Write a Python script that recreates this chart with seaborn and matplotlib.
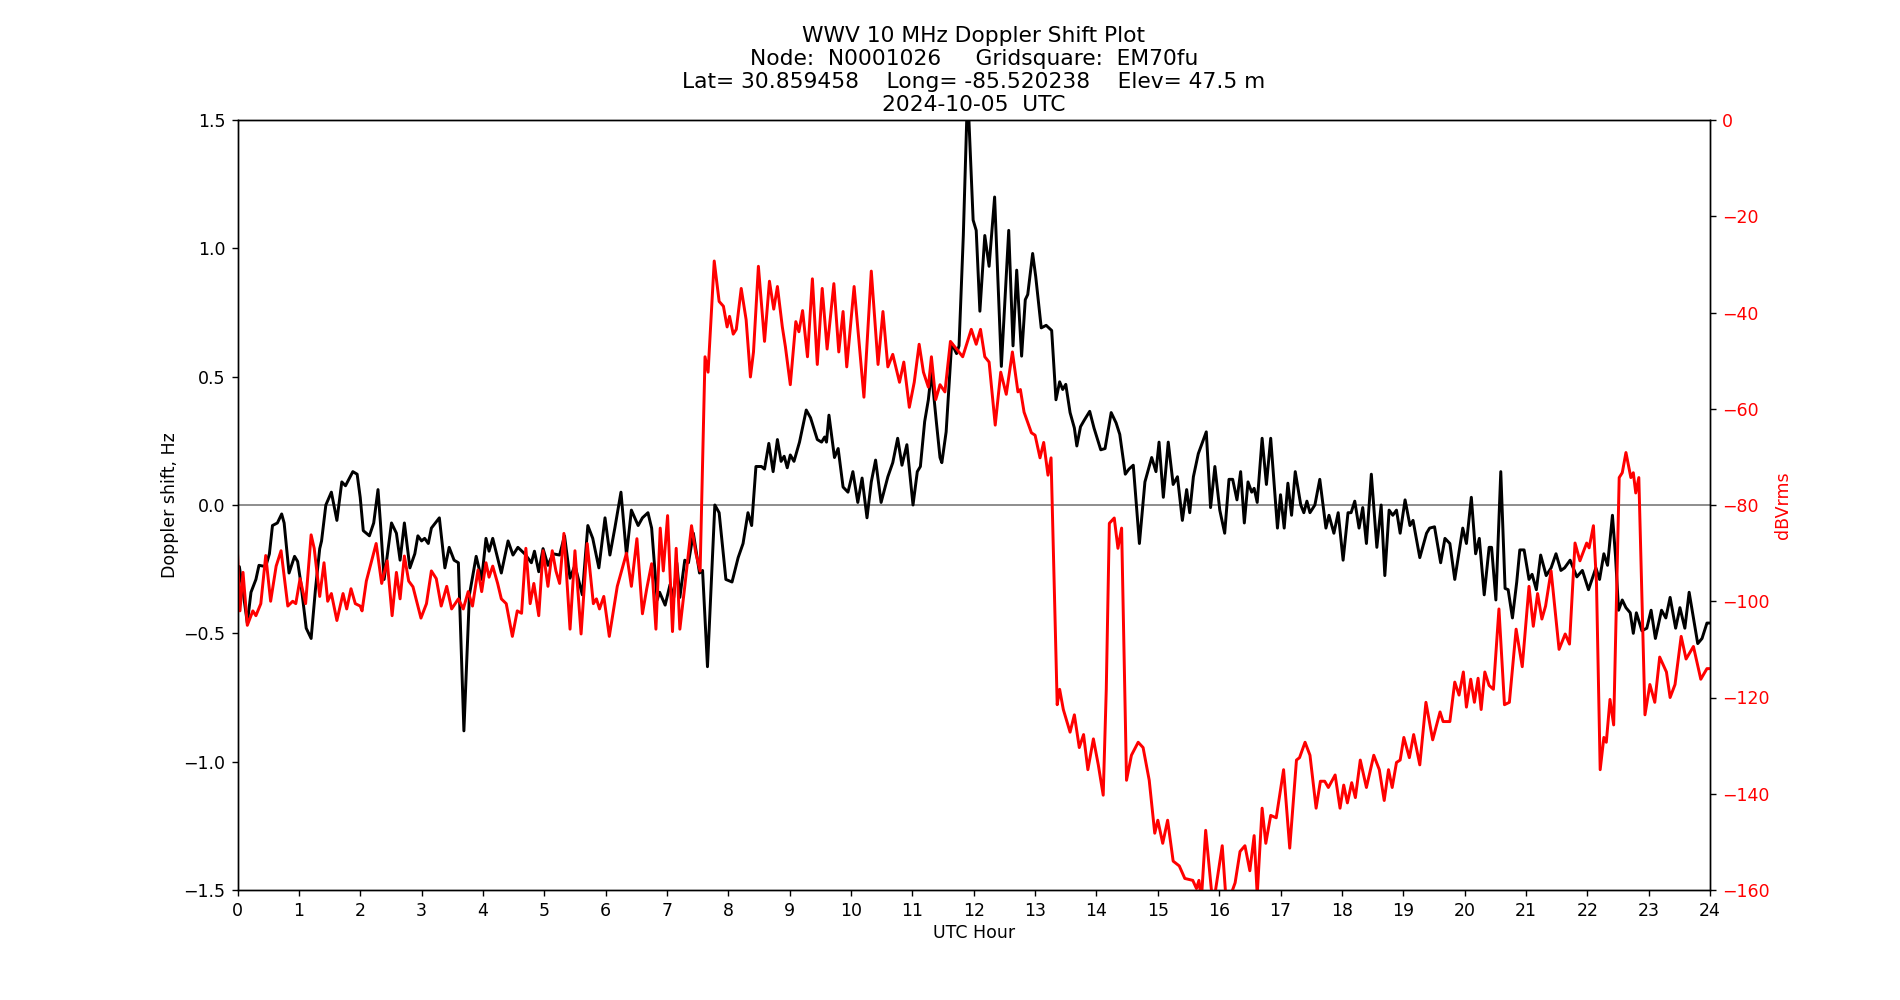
import pandas as pd
import numpy as np
import seaborn as sns
import matplotlib.pyplot as plt

# doppler shift (Hz), hour / value pairs
dop_hours = [0.00, 0.03, 0.08, 0.16, 0.22, 0.30, 0.35, 0.46, 0.52, 0.57, 0.65, 0.72, 0.76, 0.84, 0.93, 0.98,
             1.03, 1.12, 1.20, 1.27, 1.34, 1.37, 1.44, 1.53, 1.62, 1.70, 1.76, 1.88, 1.95, 2.00, 2.05, 2.15,
             2.22, 2.29, 2.33, 2.39, 2.51, 2.59, 2.65, 2.72, 2.81, 2.89, 2.94, 3.00, 3.05, 3.11, 3.16, 3.29,
             3.38, 3.45, 3.53, 3.60, 3.69, 3.78, 3.89, 3.98, 4.05, 4.10, 4.16, 4.30, 4.41, 4.49, 4.57, 4.68,
             4.79, 4.84, 4.91, 4.98, 5.06, 5.14, 5.25, 5.33, 5.42, 5.50, 5.62, 5.71, 5.79, 5.89, 5.99, 6.07,
             6.15, 6.25, 6.34, 6.42, 6.53, 6.60, 6.69, 6.75, 6.84, 6.88, 6.97, 7.05, 7.11, 7.16, 7.21, 7.29,
             7.35, 7.43, 7.53, 7.58, 7.66, 7.78, 7.85, 7.96, 8.06, 8.16, 8.24, 8.32, 8.38, 8.45, 8.54, 8.59,
             8.66, 8.73, 8.80, 8.86, 8.91, 8.96, 9.01, 9.07, 9.16, 9.27, 9.34, 9.45, 9.52, 9.57, 9.60, 9.64,
             9.73, 9.79, 9.87, 9.95, 10.03, 10.11, 10.18, 10.26, 10.33, 10.40, 10.49, 10.60, 10.68, 10.76,
             10.83, 10.91, 11.01, 11.08, 11.13, 11.20, 11.26, 11.31, 11.39, 11.45, 11.48, 11.55, 11.64, 11.72,
             11.76, 11.83, 11.90, 11.99, 12.04, 12.10, 12.18, 12.25, 12.34, 12.45, 12.50, 12.57, 12.64, 12.70,
             12.78, 12.84, 12.88, 12.96, 13.01, 13.10, 13.18, 13.27, 13.34, 13.40, 13.45, 13.50, 13.57, 13.64,
             13.68, 13.74, 13.80, 13.89, 13.96, 14.07, 14.14, 14.24, 14.32, 14.38, 14.47, 14.53, 14.60, 14.70,
             14.79, 14.90, 14.97, 15.02, 15.09, 15.17, 15.25, 15.32, 15.40, 15.47, 15.52, 15.58, 15.66, 15.79,
             15.86, 15.93, 16.01, 16.09, 16.16, 16.22, 16.29, 16.35, 16.41, 16.47, 16.53, 16.57, 16.62, 16.70,
             16.77, 16.84, 16.95, 17.00, 17.06, 17.12, 17.18, 17.24, 17.33, 17.38, 17.43, 17.48, 17.56, 17.64,
             17.74, 17.79, 17.87, 17.94, 18.02, 18.10, 18.15, 18.21, 18.28, 18.34, 18.40, 18.48, 18.57, 18.64,
             18.70, 18.77, 18.83, 18.89, 18.95, 19.03, 19.11, 19.16, 19.27, 19.38, 19.43, 19.51, 19.61, 19.68,
             19.76, 19.84, 19.97, 20.03, 20.11, 20.18, 20.24, 20.32, 20.40, 20.44, 20.51, 20.59, 20.66, 20.71,
             20.78, 20.85, 20.90, 20.97, 21.05, 21.10, 21.17, 21.24, 21.33, 21.41, 21.49, 21.57, 21.63, 21.72,
             21.83, 21.92, 22.02, 22.14, 22.20, 22.27, 22.33, 22.41, 22.46, 22.51, 22.57, 22.63, 22.70, 22.75,
             22.80, 22.89, 22.97, 23.04, 23.11, 23.21, 23.28, 23.35, 23.44, 23.51, 23.59, 23.66, 23.73, 23.80,
             23.87, 23.95, 24.00]
dop_vals = [-0.38, -0.24, -0.32, -0.46, -0.34, -0.29, -0.235, -0.24, -0.19, -0.08, -0.07, -0.035, -0.07, -0.265, -0.20, -0.22,
            -0.30, -0.48, -0.52, -0.33, -0.17, -0.14, 0.00, 0.05, -0.06, 0.09, 0.075, 0.13, 0.12, 0.03, -0.10, -0.12,
            -0.07, 0.06, -0.07, -0.29, -0.07, -0.11, -0.215, -0.07, -0.245, -0.19, -0.12, -0.14, -0.13, -0.15, -0.09, -0.05,
            -0.245, -0.165, -0.215, -0.225, -0.88, -0.35, -0.20, -0.29, -0.13, -0.18, -0.13, -0.265, -0.14, -0.195, -0.165, -0.19,
            -0.225, -0.18, -0.26, -0.17, -0.235, -0.19, -0.195, -0.12, -0.285, -0.235, -0.35, -0.08, -0.13, -0.245, -0.05, -0.195,
            -0.09, 0.05, -0.195, -0.02, -0.08, -0.05, -0.03, -0.09, -0.37, -0.34, -0.39, -0.31, -0.36, -0.225, -0.36, -0.215,
            -0.225, -0.11, -0.265, -0.255, -0.63, 0.00, -0.03, -0.29, -0.30, -0.205, -0.15, -0.03, -0.08, 0.15, 0.15, 0.14,
            0.24, 0.13, 0.255, 0.17, 0.19, 0.145, 0.195, 0.17, 0.245, 0.37, 0.34, 0.255, 0.245, 0.265, 0.245, 0.35,
            0.185, 0.22, 0.07, 0.05, 0.13, 0.01, 0.105, -0.05, 0.09, 0.175, 0.01, 0.11, 0.165, 0.26,
            0.155, 0.235, 0.00, 0.13, 0.15, 0.325, 0.41, 0.52, 0.325, 0.185, 0.165, 0.285, 0.63, 0.59,
            0.62, 1.05, 1.62, 1.11, 1.07, 0.755, 1.05, 0.93, 1.20, 0.54, 0.76, 1.07, 0.62, 0.915,
            0.58, 0.80, 0.82, 0.98, 0.89, 0.69, 0.70, 0.68, 0.41, 0.48, 0.45, 0.47, 0.36, 0.30,
            0.23, 0.305, 0.33, 0.365, 0.30, 0.215, 0.22, 0.36, 0.32, 0.275, 0.12, 0.14, 0.155, -0.15,
            0.09, 0.185, 0.13, 0.245, 0.03, 0.245, 0.08, 0.11, -0.06, 0.06, -0.03, 0.11, 0.20, 0.285,
            -0.01, 0.15, -0.02, -0.11, 0.10, 0.10, 0.02, 0.13, -0.07, 0.09, 0.05, 0.065, 0.01, 0.26,
            0.08, 0.26, -0.09, 0.04, -0.09, 0.085, -0.04, 0.13, 0.00, -0.03, 0.015, -0.03, 0.00, 0.10,
            -0.09, -0.04, -0.11, -0.03, -0.215, -0.03, -0.03, 0.015, -0.09, -0.01, -0.15, 0.12, -0.165, 0.00,
            -0.275, -0.02, -0.04, -0.02, -0.11, 0.02, -0.08, -0.06, -0.205, -0.11, -0.09, -0.085, -0.225, -0.13,
            -0.15, -0.29, -0.09, -0.15, 0.03, -0.19, -0.13, -0.35, -0.165, -0.165, -0.37, 0.13, -0.325, -0.33,
            -0.44, -0.30, -0.175, -0.175, -0.29, -0.27, -0.33, -0.195, -0.275, -0.245, -0.19, -0.255, -0.245, -0.215,
            -0.28, -0.255, -0.33, -0.245, -0.29, -0.19, -0.235, -0.04, -0.20, -0.41, -0.37, -0.40, -0.42, -0.50,
            -0.42, -0.49, -0.48, -0.41, -0.52, -0.41, -0.44, -0.36, -0.48, -0.40, -0.48, -0.34, -0.44, -0.54,
            -0.52, -0.46, -0.46]

# received power (dBVrms)
pwr_hours = [0.00, 0.04, 0.09, 0.16, 0.25, 0.30, 0.38, 0.46, 0.54, 0.63, 0.71, 0.82, 0.90, 0.95, 1.02, 1.11,
             1.20, 1.25, 1.34, 1.41, 1.47, 1.53, 1.62, 1.72, 1.78, 1.85, 1.92, 2.00, 2.03, 2.10, 2.26, 2.35,
             2.44, 2.52, 2.59, 2.65, 2.72, 2.79, 2.86, 2.99, 3.08, 3.16, 3.24, 3.32, 3.41, 3.49, 3.60, 3.68,
             3.76, 3.83, 3.92, 3.98, 4.05, 4.10, 4.16, 4.24, 4.30, 4.38, 4.48, 4.56, 4.63, 4.70, 4.77, 4.83,
             4.91, 4.98, 5.06, 5.13, 5.19, 5.25, 5.32, 5.42, 5.50, 5.60, 5.70, 5.80, 5.85, 5.90, 5.97, 6.06,
             6.19, 6.34, 6.42, 6.51, 6.60, 6.67, 6.75, 6.82, 6.89, 6.94, 7.01, 7.09, 7.15, 7.21, 7.29, 7.40,
             7.47, 7.54, 7.62, 7.67, 7.77, 7.85, 7.92, 7.98, 8.02, 8.08, 8.13, 8.21, 8.29, 8.36, 8.41, 8.49,
             8.59, 8.67, 8.74, 8.80, 8.88, 8.93, 9.01, 9.10, 9.15, 9.21, 9.29, 9.37, 9.45, 9.53, 9.61, 9.72,
             9.80, 9.87, 9.93, 10.05, 10.21, 10.33, 10.44, 10.52, 10.60, 10.68, 10.79, 10.86, 10.95, 11.03,
             11.11, 11.18, 11.26, 11.31, 11.38, 11.45, 11.53, 11.62, 11.72, 11.82, 11.96, 12.04, 12.11, 12.18,
             12.25, 12.35, 12.44, 12.53, 12.63, 12.72, 12.76, 12.82, 12.94, 13.00, 13.08, 13.14, 13.21, 13.26,
             13.36, 13.40, 13.46, 13.57, 13.64, 13.72, 13.79, 13.86, 13.95, 14.03, 14.11, 14.16, 14.21, 14.29,
             14.35, 14.41, 14.49, 14.57, 14.68, 14.76, 14.86, 14.95, 15.00, 15.08, 15.16, 15.25, 15.35, 15.44,
             15.57, 15.63, 15.67, 15.71, 15.78, 15.90, 16.05, 16.12, 16.26, 16.34, 16.42, 16.50, 16.57, 16.62,
             16.70, 16.76, 16.84, 16.93, 17.05, 17.15, 17.26, 17.31, 17.40, 17.48, 17.58, 17.65, 17.72, 17.78,
             17.89, 17.97, 18.03, 18.09, 18.16, 18.22, 18.30, 18.40, 18.52, 18.61, 18.69, 18.76, 18.82, 18.89,
             18.95, 19.01, 19.10, 19.17, 19.27, 19.37, 19.48, 19.60, 19.65, 19.76, 19.84, 19.91, 19.98, 20.03,
             20.10, 20.16, 20.22, 20.27, 20.33, 20.40, 20.47, 20.56, 20.65, 20.73, 20.84, 20.94, 21.05, 21.12,
             21.19, 21.26, 21.32, 21.41, 21.54, 21.64, 21.71, 21.80, 21.88, 21.99, 22.03, 22.10, 22.15, 22.21,
             22.27, 22.31, 22.37, 22.43, 22.52, 22.57, 22.63, 22.71, 22.75, 22.79, 22.84, 22.94, 23.02, 23.10,
             23.18, 23.29, 23.35, 23.43, 23.53, 23.61, 23.73, 23.85, 23.95, 24.00]
pwr_vals = [-90, -102, -94, -105, -102, -103, -100.5, -90.5, -100, -92.7, -89.5, -101, -100, -100.5, -95.3, -100.5,
            -86.2, -89, -99, -92, -100, -98.4, -104, -98.4, -101.6, -97.4, -100.5, -101, -102, -95.8, -88, -96.3,
            -91.6, -103, -94, -99.5, -90.6, -95.8, -97, -103.5, -100.5, -93.7, -95.3, -101, -96.9, -101.6, -99.5, -101.6,
            -98, -101, -93.5, -98, -92, -95, -92.7, -96.3, -99.5, -100.5, -107.3, -102, -102.5, -89, -100.5, -96.3,
            -103, -89.5, -96.9, -89.5, -93.7, -96.3, -85.9, -105.8, -89.5, -106.8, -88, -100.5, -99.5, -101.6, -99, -107.3,
            -96.9, -90, -96.9, -87, -102.6, -97.4, -92.2, -105.8, -84.8, -93.7, -82.2, -106.3, -89, -105.8, -96.9, -84.3,
            -90, -93.7, -49.2, -52.4, -29.3, -37.7, -38.7, -43, -40.8, -44.5, -43.5, -35, -41.5, -53.4, -48.2, -30.4,
            -46, -33.5, -39.3, -34.6, -43, -47.1, -55, -41.9, -44, -39.6, -49.2, -33, -50.8, -35, -47.6, -34,
            -48.2, -39.8, -51.3, -34.6, -57.6, -31.4, -50.8, -39.8, -51.3, -48.7, -54.5, -50.3, -59.7, -54.5,
            -46.6, -52.4, -55.5, -49.2, -58.1, -55, -56.5, -46, -47.6, -49.2, -43.5, -46.6, -43.5, -49.2,
            -50.3, -63.4, -52.4, -57, -48.2, -56.5, -56, -60.7, -65, -65.5, -70.2, -67, -73.8, -70.2,
            -121.5, -118.3, -122.5, -127.2, -123.6, -130.4, -127.7, -135, -128.6, -134, -140.3, -118.3, -83.8, -82.7,
            -89, -84.8, -137.2, -132, -129.3, -130.4, -137.2, -148.2, -145.5, -150.3, -145.5, -154, -155, -157.6,
            -158, -159.7, -158, -162, -147.6, -163.5, -150.8, -163.5, -158.5, -152, -150.8, -156, -148.7, -161,
            -143, -150.3, -144.5, -145, -135, -151.3, -133, -132.5, -129.3, -132, -143, -137.4, -137.4, -138.7,
            -136.1, -143, -138.2, -141.9, -137.7, -140.8, -133, -138.7, -132, -135, -141.4, -135, -138.7, -133.5,
            -133, -128.3, -132.5, -127.7, -134, -121, -128.8, -123, -125, -125, -116.8, -119.5, -114.7, -122,
            -116.2, -121, -116, -122.5, -114.7, -117.5, -118.3, -101.6, -121.5, -121, -105.8, -113.6, -96.9, -105.2,
            -98.4, -103.7, -101, -93.7, -110, -106.8, -108.9, -87.9, -91.6, -87.9, -88.9, -84.3, -96.3, -135,
            -128.3, -129.3, -120.4, -125.7, -74.3, -73.3, -69.1, -74.3, -73.3, -77.5, -74.3, -123.6, -117.3, -121,
            -111.6, -114.7, -120, -117.3, -107.3, -112, -109.4, -116.2, -114, -114]

dop = pd.DataFrame({'hour': dop_hours, 'shift': dop_vals})
pwr = pd.DataFrame({'hour': pwr_hours, 'power': pwr_vals})

fig, ax = plt.subplots(figsize=(15.2, 8), dpi=125)

#doppler on the left axis
sns.lineplot(data=dop, x='hour', y='shift', color='black', linewidth=1.7, estimator=None, ax=ax, zorder=3,
             solid_joinstyle='round')
ax.axhline(0, color='grey', linewidth=1)
ax.set_xlim(0, 24)
ax.set_ylim(-1.5, 1.5)
ax.set_xticks(range(0, 25))
ax.set_xlabel('UTC Hour', labelpad=2)
ax.set_ylabel('Doppler shift, Hz', labelpad=2.5)
ax.set_title('WWV 10 MHz Doppler Shift Plot\n'
             'Node:  N0001026     Gridsquare:  EM70fu\n'
             'Lat= 30.859458    Long= -85.520238    Elev= 47.5 m\n'
             '2024-10-05  UTC', fontsize=12.5, pad=5)

#power on the right axis
ax2 = ax.twinx()
sns.lineplot(data=pwr, x='hour', y='power', color='red', linewidth=1.7, estimator=None, ax=ax2,
             solid_joinstyle='round')
ax2.set_ylim(-160, 0)
ax2.set_yticks(range(-160, 1, 20))
ax2.set_ylabel('dBVrms', color='red', labelpad=2.5)
ax2.tick_params(axis='y', labelcolor='red')
ax2.set_xlim(0, 24)

fig.savefig('out.png', dpi=125)
